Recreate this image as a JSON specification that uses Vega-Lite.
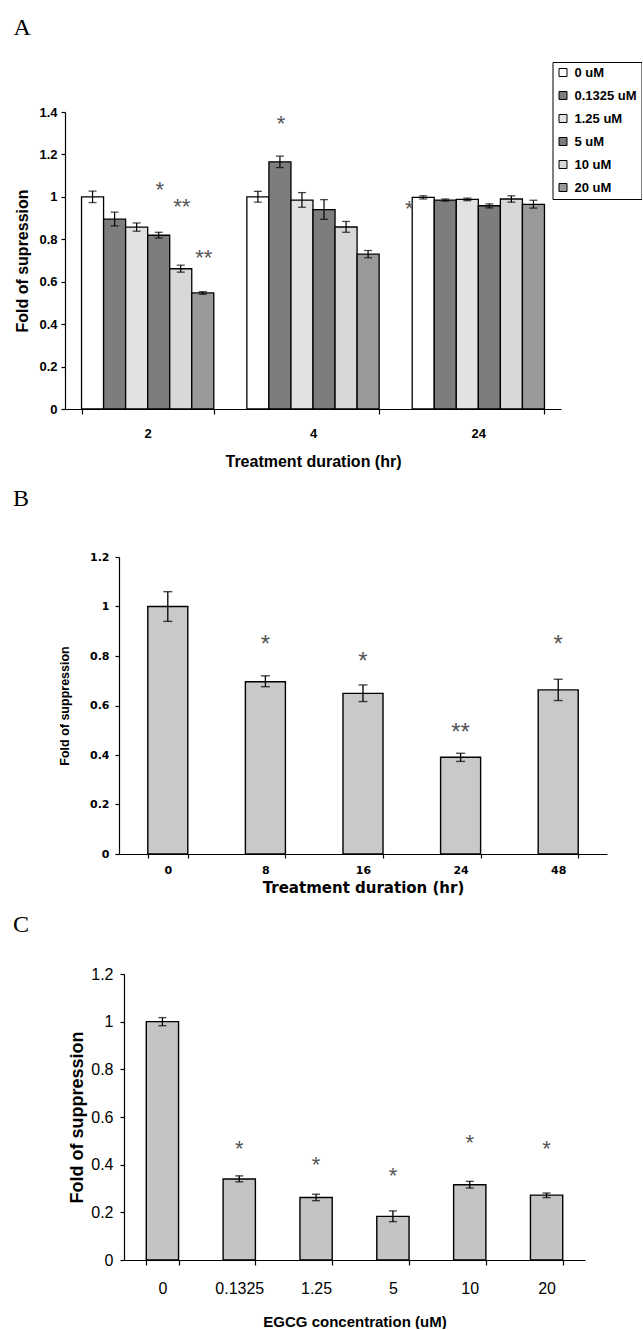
{
  "$schema": "https://vega.github.io/schema/vega-lite/v6.json",
  "background": "white",
  "padding": {"left": 12, "top": 16, "right": 0, "bottom": 0},
  "spacing": 18,
  "config": {
    "view": {"stroke": null},
    "font": "Liberation Sans",
    "axis": {"grid": false, "domainColor": "black", "tickColor": "black", "labelColor": "black", "titleColor": "black", "domainWidth": 1.2, "tickWidth": 1.2},
    "title": {"color": "black"}
  },
  "vconcat": [
    {"spacing": 0, "hconcat": [
    {"width": 1, "height": 1, "data": {"values": []}, "mark": "point"},
    {
      "width": 496,
      "height": 297,
      "title": {"text": "A", "anchor": "start", "frame": "group", "font": "Liberation Serif", "fontSize": 24, "fontWeight": "normal", "dx": -51.5, "offset": 66},
      "data": {"values": [
        {"t": "2", "c": "0 uM", "v": 1.0, "lo": 0.973, "hi": 1.027},
        {"t": "2", "c": "0.1325 uM", "v": 0.895, "lo": 0.863, "hi": 0.928},
        {"t": "2", "c": "1.25 uM", "v": 0.857, "lo": 0.838, "hi": 0.877},
        {"t": "2", "c": "5 uM", "v": 0.819, "lo": 0.806, "hi": 0.833},
        {"t": "2", "c": "10 uM", "v": 0.661, "lo": 0.645, "hi": 0.678},
        {"t": "2", "c": "20 uM", "v": 0.547, "lo": 0.541, "hi": 0.553},
        {"t": "4", "c": "0 uM", "v": 1.0, "lo": 0.975, "hi": 1.026},
        {"t": "4", "c": "0.1325 uM", "v": 1.165, "lo": 1.138, "hi": 1.192},
        {"t": "4", "c": "1.25 uM", "v": 0.985, "lo": 0.951, "hi": 1.02},
        {"t": "4", "c": "5 uM", "v": 0.94, "lo": 0.894, "hi": 0.987},
        {"t": "4", "c": "10 uM", "v": 0.858, "lo": 0.833, "hi": 0.884},
        {"t": "4", "c": "20 uM", "v": 0.73, "lo": 0.713, "hi": 0.747},
        {"t": "24", "c": "0 uM", "v": 0.998, "lo": 0.99, "hi": 1.005},
        {"t": "24", "c": "0.1325 uM", "v": 0.985, "lo": 0.98, "hi": 0.99},
        {"t": "24", "c": "1.25 uM", "v": 0.988, "lo": 0.982, "hi": 0.994},
        {"t": "24", "c": "5 uM", "v": 0.958, "lo": 0.948, "hi": 0.967},
        {"t": "24", "c": "10 uM", "v": 0.99, "lo": 0.975, "hi": 1.005},
        {"t": "24", "c": "20 uM", "v": 0.965, "lo": 0.947, "hi": 0.984}
      ]},
      "layer": [
        {
          "mark": {"type": "bar", "stroke": "black", "strokeWidth": 1.3},
          "encoding": {
            "x": {"field": "t", "type": "nominal", "sort": ["2", "4", "24"], "scale": {"paddingInner": 0.2, "paddingOuter": 0.1},
              "axis": {"title": "Treatment duration (hr)", "labelAngle": 0, "tickBand": "extent", "tickSize": 5, "labelFontSize": 13, "labelFontWeight": "bold", "labelPadding": 13, "titleFontSize": 16, "titleFontWeight": "bold", "titlePadding": 13}},
            "xOffset": {"field": "c", "type": "nominal", "sort": ["0 uM", "0.1325 uM", "1.25 uM", "5 uM", "10 uM", "20 uM"], "scale": {"paddingInner": 0, "paddingOuter": 0}},
            "y": {"field": "v", "type": "quantitative", "scale": {"domain": [0, 1.4], "nice": false},
              "axis": {"title": "Fold of supression", "values": [0, 0.2, 0.4, 0.6, 0.8, 1, 1.2, 1.4], "format": ".1~f", "tickSize": 4, "labelPadding": 4, "labelFontSize": 13, "labelFontWeight": "bold", "titleFontSize": 16, "titleFontWeight": "bold", "titlePadding": 8}},
            "fill": {"field": "c", "type": "nominal", "sort": ["0 uM", "0.1325 uM", "1.25 uM", "5 uM", "10 uM", "20 uM"],
              "scale": {"domain": ["0 uM", "0.1325 uM", "1.25 uM", "5 uM", "10 uM", "20 uM"], "range": ["#ffffff", "#7d7d7d", "#e2e2e2", "#7d7d7d", "#d8d8d8", "#999999"]},
              "legend": {"title": null, "orient": "none", "legendX": 540.5, "legendY": -50, "strokeColor": "black", "padding": 4, "symbolType": "square", "symbolSize": 64, "symbolStrokeColor": "black", "symbolStrokeWidth": 1, "labelFontSize": 13, "labelFontWeight": "bold", "labelColor": "black", "labelOffset": 5, "rowPadding": 9}}
          }
        },
        {
          "mark": {"type": "rule", "color": "black", "strokeWidth": 1.2},
          "encoding": {
            "x": {"field": "t", "type": "nominal", "sort": ["2", "4", "24"]},
            "xOffset": {"field": "c", "type": "nominal", "sort": ["0 uM", "0.1325 uM", "1.25 uM", "5 uM", "10 uM", "20 uM"]},
            "y": {"field": "lo", "type": "quantitative"},
            "y2": {"field": "hi"}
          }
        },
        {
          "mark": {"type": "tick", "color": "black", "thickness": 1.3, "size": 8},
          "encoding": {
            "x": {"field": "t", "type": "nominal", "sort": ["2", "4", "24"]},
            "xOffset": {"field": "c", "type": "nominal", "sort": ["0 uM", "0.1325 uM", "1.25 uM", "5 uM", "10 uM", "20 uM"]},
            "y": {"field": "lo", "type": "quantitative"}
          }
        },
        {
          "mark": {"type": "tick", "color": "black", "thickness": 1.3, "size": 8},
          "encoding": {
            "x": {"field": "t", "type": "nominal", "sort": ["2", "4", "24"]},
            "xOffset": {"field": "c", "type": "nominal", "sort": ["0 uM", "0.1325 uM", "1.25 uM", "5 uM", "10 uM", "20 uM"]},
            "y": {"field": "hi", "type": "quantitative"}
          }
        },
        {
          "data": {"values": [
            {"t": "2", "c": "5 uM", "s": "*", "sy": 1.03},
            {"t": "2", "c": "10 uM", "s": "**", "sy": 0.95},
            {"t": "2", "c": "20 uM", "s": "**", "sy": 0.71},
            {"t": "4", "c": "0.1325 uM", "s": "*", "sy": 1.345}
          ]},
          "mark": {"type": "text", "fontSize": 22, "color": "#555555", "baseline": "middle", "dx": 1},
          "encoding": {
            "x": {"field": "t", "type": "nominal", "sort": ["2", "4", "24"]},
            "xOffset": {"field": "c", "type": "nominal", "sort": ["0 uM", "0.1325 uM", "1.25 uM", "5 uM", "10 uM", "20 uM"]},
            "y": {"field": "sy", "type": "quantitative"},
            "text": {"field": "s"}
          }
        },
        {
          "data": {"values": [
            {"t": "24", "c": "0 uM", "s": "*", "sy": 0.945}
          ]},
          "mark": {"type": "text", "fontSize": 22, "color": "#555555", "baseline": "middle", "dx": -14},
          "encoding": {
            "x": {"field": "t", "type": "nominal", "sort": ["2", "4", "24"]},
            "xOffset": {"field": "c", "type": "nominal", "sort": ["0 uM", "0.1325 uM", "1.25 uM", "5 uM", "10 uM", "20 uM"]},
            "y": {"field": "sy", "type": "quantitative"},
            "text": {"field": "s"}
          }
        }
      ]
    }
    ]},
    {"spacing": 0, "hconcat": [
    {"width": 1, "height": 1, "data": {"values": []}, "mark": "point"},
    {
      "width": 488,
      "height": 297,
      "title": {"text": "B", "anchor": "start", "frame": "group", "font": "Liberation Serif", "fontSize": 24, "fontWeight": "normal", "dx": -106, "offset": 40},
      "data": {"values": [
        {"t": "0", "v": 1.0, "lo": 0.94, "hi": 1.06},
        {"t": "8", "v": 0.696, "lo": 0.676, "hi": 0.72},
        {"t": "16", "v": 0.649, "lo": 0.616, "hi": 0.683},
        {"t": "24", "v": 0.391, "lo": 0.374, "hi": 0.407},
        {"t": "48", "v": 0.663, "lo": 0.62, "hi": 0.706}
      ]},
      "layer": [
        {
          "mark": {"type": "bar", "fill": "#c9c9c9", "stroke": "black", "strokeWidth": 1.4},
          "encoding": {
            "x": {"field": "t", "type": "nominal", "sort": ["0", "8", "16", "24", "48"], "scale": {"paddingInner": 0.59, "paddingOuter": 0.295},
              "axis": {"title": "Treatment duration (hr)", "labelAngle": 0, "tickBand": "extent", "tickSize": 4, "labelFont": "DejaVu Sans", "labelFontSize": 11, "labelFontWeight": "bold", "labelPadding": 6, "titleFont": "DejaVu Sans", "titleFontSize": 15, "titleFontWeight": "bold", "titlePadding": 5}},
            "y": {"field": "v", "type": "quantitative", "scale": {"domain": [0, 1.2], "nice": false},
              "axis": {"title": "Fold of suppression", "values": [0, 0.2, 0.4, 0.6, 0.8, 1, 1.2], "format": ".1~f", "tickSize": 4, "labelPadding": 6, "labelFont": "DejaVu Sans", "labelFontSize": 11, "labelFontWeight": "bold", "titleFont": "Liberation Sans", "titleFontSize": 12.5, "titleFontWeight": "bold", "titlePadding": 18}}
          }
        },
        {
          "mark": {"type": "rule", "color": "black", "strokeWidth": 1.3},
          "encoding": {
            "x": {"field": "t", "type": "nominal", "sort": ["0", "8", "16", "24", "48"]},
            "y": {"field": "lo", "type": "quantitative"},
            "y2": {"field": "hi"}
          }
        },
        {
          "mark": {"type": "tick", "color": "black", "thickness": 1.4, "size": 9},
          "encoding": {
            "x": {"field": "t", "type": "nominal", "sort": ["0", "8", "16", "24", "48"]},
            "y": {"field": "lo", "type": "quantitative"}
          }
        },
        {
          "mark": {"type": "tick", "color": "black", "thickness": 1.4, "size": 9},
          "encoding": {
            "x": {"field": "t", "type": "nominal", "sort": ["0", "8", "16", "24", "48"]},
            "y": {"field": "hi", "type": "quantitative"}
          }
        },
        {
          "data": {"values": [
            {"t": "8", "s": "*", "sy": 0.845},
            {"t": "16", "s": "*", "sy": 0.775},
            {"t": "24", "s": "**", "sy": 0.49},
            {"t": "48", "s": "*", "sy": 0.845}
          ]},
          "mark": {"type": "text", "fontSize": 24, "color": "#555555", "baseline": "middle"},
          "encoding": {
            "x": {"field": "t", "type": "nominal", "sort": ["0", "8", "16", "24", "48"]},
            "y": {"field": "sy", "type": "quantitative"},
            "text": {"field": "s"}
          }
        }
      ]
    }
    ]},
    {"spacing": 0, "hconcat": [
    {"width": 1, "height": 1, "data": {"values": []}, "mark": "point"},
    {
      "width": 461,
      "height": 286,
      "title": {"text": "C", "anchor": "start", "frame": "group", "font": "Liberation Serif", "fontSize": 24, "fontWeight": "normal", "dx": -111, "offset": 29},
      "data": {"values": [
        {"t": "0", "v": 1.0, "lo": 0.983, "hi": 1.017},
        {"t": "0.1325", "v": 0.34, "lo": 0.328, "hi": 0.353},
        {"t": "1.25", "v": 0.262, "lo": 0.249, "hi": 0.276},
        {"t": "5", "v": 0.183, "lo": 0.161, "hi": 0.206},
        {"t": "10", "v": 0.316, "lo": 0.302, "hi": 0.33},
        {"t": "20", "v": 0.272, "lo": 0.262, "hi": 0.281}
      ]},
      "layer": [
        {
          "mark": {"type": "bar", "fill": "#c4c4c4", "stroke": "black", "strokeWidth": 1.4},
          "encoding": {
            "x": {"field": "t", "type": "nominal", "sort": ["0", "0.1325", "1.25", "5", "10", "20"], "scale": {"paddingInner": 0.58, "paddingOuter": 0.29},
              "axis": {"title": "EGCG concentration (uM)", "labelAngle": 0, "tickBand": "extent", "tickSize": 5, "labelFontSize": 16, "labelPadding": 15, "titleFontSize": 15, "titleFontWeight": "bold", "titlePadding": 18}},
            "y": {"field": "v", "type": "quantitative", "scale": {"domain": [0, 1.2], "nice": false},
              "axis": {"title": "Fold of suppression", "values": [0, 0.2, 0.4, 0.6, 0.8, 1, 1.2], "format": ".1~f", "tickSize": 4, "labelPadding": 7, "labelFontSize": 16, "titleFontSize": 18, "titleFontWeight": "bold", "titlePadding": 4}}
          }
        },
        {
          "mark": {"type": "rule", "color": "black", "strokeWidth": 1.3},
          "encoding": {
            "x": {"field": "t", "type": "nominal", "sort": ["0", "0.1325", "1.25", "5", "10", "20"]},
            "y": {"field": "lo", "type": "quantitative"},
            "y2": {"field": "hi"}
          }
        },
        {
          "mark": {"type": "tick", "color": "black", "thickness": 1.4, "size": 8},
          "encoding": {
            "x": {"field": "t", "type": "nominal", "sort": ["0", "0.1325", "1.25", "5", "10", "20"]},
            "y": {"field": "lo", "type": "quantitative"}
          }
        },
        {
          "mark": {"type": "tick", "color": "black", "thickness": 1.4, "size": 8},
          "encoding": {
            "x": {"field": "t", "type": "nominal", "sort": ["0", "0.1325", "1.25", "5", "10", "20"]},
            "y": {"field": "hi", "type": "quantitative"}
          }
        },
        {
          "data": {"values": [
            {"t": "0.1325", "s": "*", "sy": 0.465},
            {"t": "1.25", "s": "*", "sy": 0.398},
            {"t": "5", "s": "*", "sy": 0.353},
            {"t": "10", "s": "*", "sy": 0.489},
            {"t": "20", "s": "*", "sy": 0.465}
          ]},
          "mark": {"type": "text", "fontSize": 22, "color": "#555555", "baseline": "middle"},
          "encoding": {
            "x": {"field": "t", "type": "nominal", "sort": ["0", "0.1325", "1.25", "5", "10", "20"]},
            "y": {"field": "sy", "type": "quantitative"},
            "text": {"field": "s"}
          }
        }
      ]
    }
    ]}
  ]
}
